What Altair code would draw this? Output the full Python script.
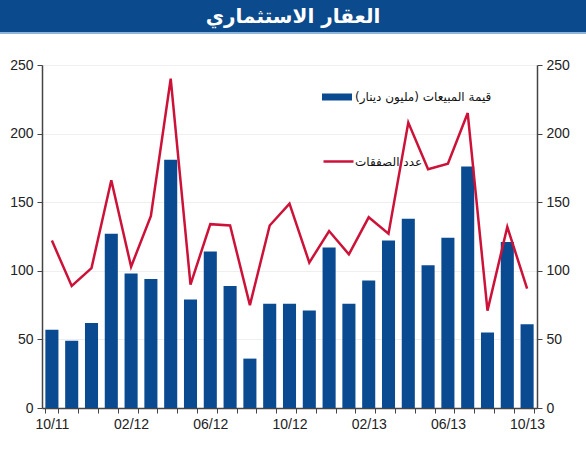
import json
import altair as alt
import pandas as pd

months = ["10/11", "11/11", "12/11", "01/12", "02/12", "03/12", "04/12", "05/12",
          "06/12", "07/12", "08/12", "09/12", "10/12", "11/12", "12/12", "01/13",
          "02/13", "03/13", "04/13", "05/13", "06/13", "07/13", "08/13", "09/13", "10/13"]
sales = [57, 49, 62, 127, 98, 94, 181, 79, 114, 89, 36, 76, 76, 71, 117, 76,
         93, 122, 138, 104, 124, 176, 55, 121, 61]
deals = [122, 89, 102, 166, 103, 140, 240, 90, 134, 133, 75, 133, 149, 106, 129, 112,
         139, 127, 208, 174, 178, 215, 71, 132, 87]
tick_labels = ["10/11", "02/12", "06/12", "10/12", "02/13", "06/13", "10/13"]
y_ticks = [0, 50, 100, 150, 200, 250]
title_text = "العقار الاستثماري"
sales_name = "\u200fقيمة المبيعات (مليون دينار)\u200f"
deals_name = "عدد الصفقات"

BLUE = "#0a4a91"
RED = "#cc1238"
AXIS = "#444444"
FONT = "Liberation Sans"
AR_FONT = "DejaVu Sans"

df = pd.DataFrame({"month": months, "sales": sales, "deals": deals,
                   "s": [sales_name] * len(months), "d": [deals_name] * len(months)})
title_df = pd.DataFrame({"t": [title_text]})

label_expr = "indexof(" + json.dumps(tick_labels) + ", datum.value) >= 0 ? datum.value : ''"

x = alt.X("month:O", sort=months,
          scale=alt.Scale(paddingInner=0.34, paddingOuter=0.17),
          axis=alt.Axis(title=None, labelExpr=label_expr, labelAngle=0, tickBand="extent",
                        tickSize=5, domainColor=AXIS, tickColor=AXIS, domainWidth=1.5,
                        labelFontSize=14, labelColor="#222", labelPadding=4, grid=False,
                        labelFont=FONT))

bars = alt.Chart(df).mark_bar().encode(
    x=x,
    y=alt.Y("sales:Q", scale=alt.Scale(domain=[0, 250]),
            axis=alt.Axis(orient="left", values=y_ticks, title=None, grid=True,
                          gridColor="#efefef", tickSize=5, domainColor=AXIS, tickColor=AXIS,
                          domainWidth=1.5, labelFontSize=14, labelColor="#222",
                          labelPadding=4, labelFont=FONT)),
    color=alt.Color("s:N", scale=alt.Scale(range=[BLUE]),
                    legend=alt.Legend(title=None, orient="none", legendX=285, legendY=22,
                                      symbolType="M-1.5,-0.35H1.5V0.35H-1.5Z",
                                      symbolSize=400, symbolStrokeWidth=0,
                                      labelFont=AR_FONT, labelFontSize=12, labelColor="#111",
                                      labelOffset=8, padding=0)),
)

line = alt.Chart(df).mark_line(strokeWidth=2.5).encode(
    x=x,
    y=alt.Y("deals:Q", scale=alt.Scale(domain=[0, 250]),
            axis=alt.Axis(orient="right", values=y_ticks, title=None, grid=False,
                          tickSize=5, domainColor=AXIS, tickColor=AXIS, domainWidth=1.5,
                          labelFontSize=14, labelColor="#222", labelPadding=4,
                          labelFont=FONT)),
    stroke=alt.Stroke("d:N", scale=alt.Scale(range=[RED]),
                      legend=alt.Legend(title=None, orient="none", legendX=280, legendY=80,
                                        symbolType="stroke", symbolSize=900,
                                        symbolStrokeWidth=2.5,
                                        labelFont=AR_FONT, labelFontSize=12,
                                        labelColor="#111", labelOffset=0, padding=0)),
)

title_bg = alt.Chart(title_df).mark_rect(color="#0b4a8c").encode(
    x=alt.value(-42), x2=alt.value(544), y=alt.value(-65), y2=alt.value(-33))
title_edge = alt.Chart(title_df).mark_rect(color="#8fb4dc").encode(
    x=alt.value(-42), x2=alt.value(544), y=alt.value(-33), y2=alt.value(-31))
title_txt = alt.Chart(title_df).mark_text(
    color="white", font=AR_FONT, fontSize=20, fontWeight="bold", align="center",
    baseline="middle").encode(text="t:N", x=alt.value(251), y=alt.value(-48))

chart = alt.layer(bars, line, title_bg, title_edge, title_txt).resolve_scale(
    y="independent", color="independent"
).properties(
    width=495, height=343,
    autosize=alt.AutoSizeParams(type="none"),
    padding={"left": 42, "top": 65, "right": 49, "bottom": 42},
).configure_view(stroke=None).configure(background="white")

chart.save("out.html", embed_options={"renderer": "svg", "actions": False})
